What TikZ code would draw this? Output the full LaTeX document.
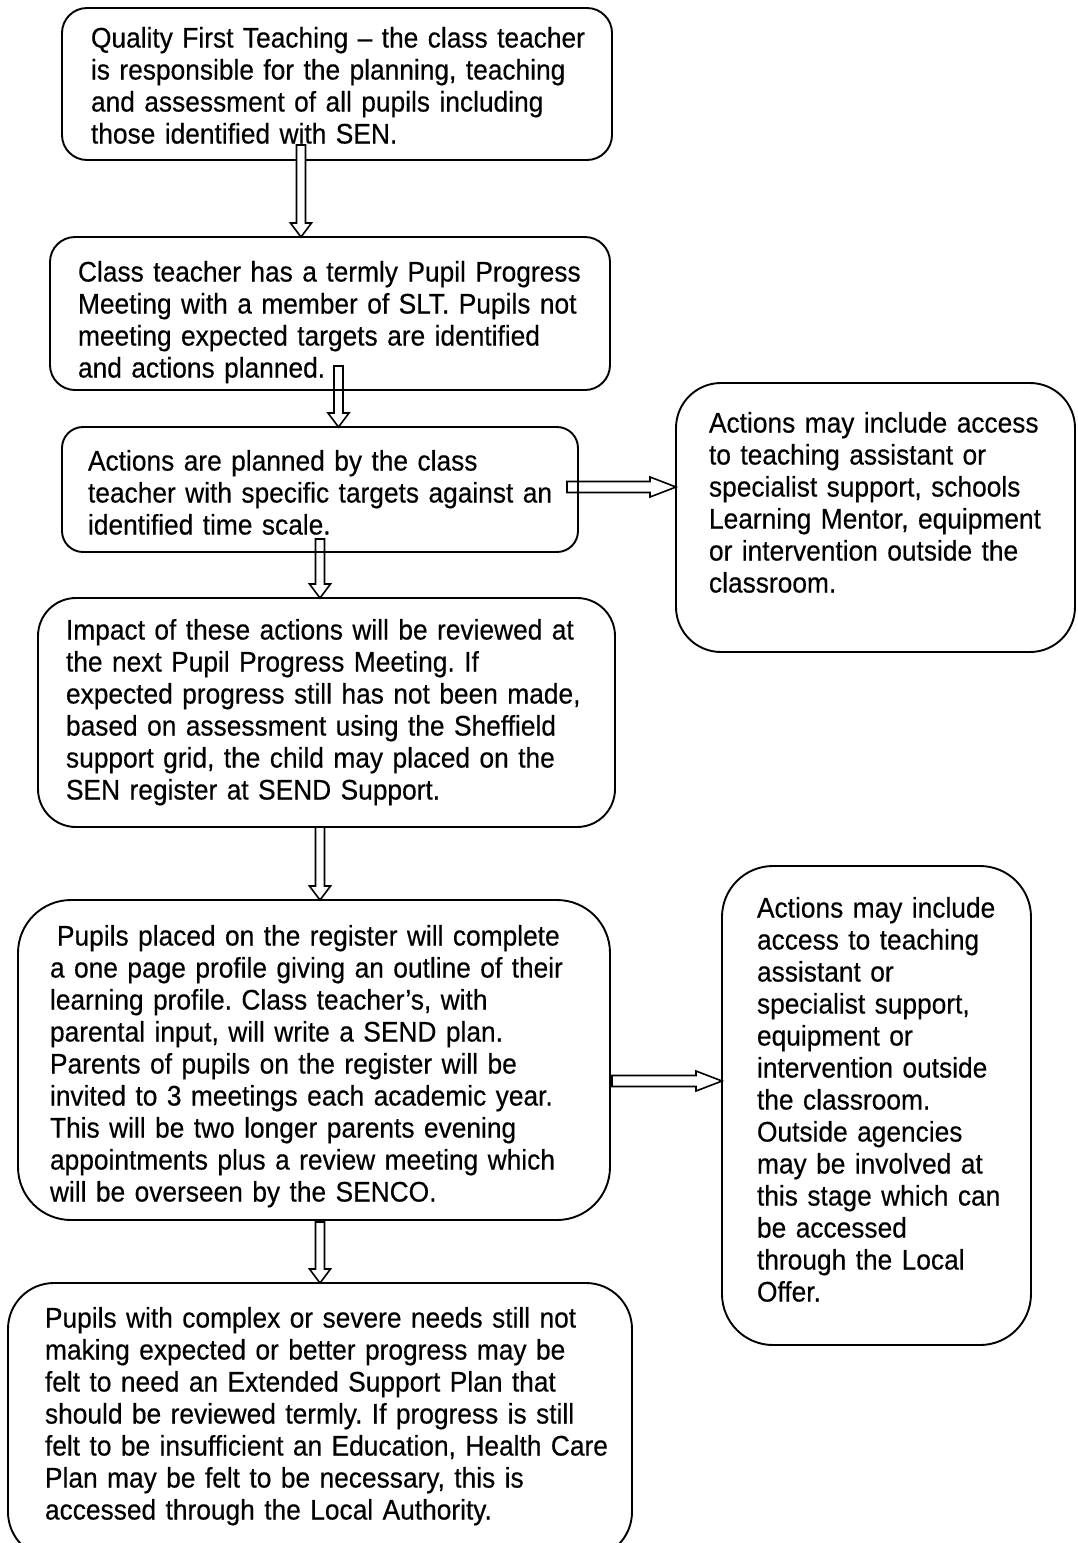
\documentclass[tikz,border=0pt]{standalone}
\usepackage{fontspec}
\setmainfont[FakeStretch=0.93,FakeBold=0.4]{Liberation Sans}
\usetikzlibrary{calc}
\tikzset{
  box/.style={draw=black, line width=1.9pt, rectangle, inner sep=0pt, outer sep=0pt},
  txt/.style={inner sep=0pt, outer sep=0pt, anchor=north west, align=left,
    font=\fontsize{28.3pt}{32pt}\selectfont},
  blockarrow/.style={draw=black, line width=1.6pt, line join=miter},
}
\newcommand{\blockdown}[3][none]{%
  \draw[blockarrow, fill=#1] let \p1=(#2), \p2=(#3) in
    (\x1-4.5pt,\y1) -- (\x1+4.5pt,\y1) -- (\x1+4.5pt,\y2+14pt) -- (\x1+10.5pt,\y2+14pt)
    -- (\x1,\y2) -- (\x1-10.5pt,\y2+14pt) -- (\x1-4.5pt,\y2+14pt) -- cycle;}
\newcommand{\blockright}[3][none]{%
  \draw[blockarrow, fill=#1] let \p1=(#2), \p2=(#3) in
    (\x1,\y1-5.5pt) -- (\x2-26pt,\y1-5.5pt) -- (\x2-26pt,\y1-10pt) -- (\x2,\y1)
    -- (\x2-26pt,\y1+10pt) -- (\x2-26pt,\y1+5.5pt) -- (\x1,\y1+5.5pt) -- cycle;}
\newcommand{\jl}[1]{\makebox[\linewidth][s]{#1}}
\frenchspacing
\begin{document}
\begin{tikzpicture}[x=1pt,y=-1pt]
\clip (0,0) rectangle (1078,1543);
\fill[white] (0,0) rectangle (1078,1543);

% boxes
\node[box, minimum width=550pt, minimum height=152pt, rounded corners=25pt] (b1) at (337,84) {};
\node[box, minimum width=560pt, minimum height=153pt, rounded corners=25pt] (b2) at (330,313.5) {};
\node[box, minimum width=516pt, minimum height=125pt, rounded corners=21pt] (b3) at (320,489.5) {};
\node[box, minimum width=399pt, minimum height=269pt, rounded corners=45pt] (b4) at (875.5,517.5) {};
\node[box, minimum width=577pt, minimum height=229pt, rounded corners=38pt] (b5) at (326.5,712.5) {};
\node[box, minimum width=592pt, minimum height=320pt, rounded corners=53pt] (b6) at (314,1060) {};
\node[box, minimum width=309pt, minimum height=479pt, rounded corners=51pt] (b7) at (876.5,1105.5) {};
\node[box, minimum width=624pt, minimum height=275pt, rounded corners=46pt] (b8) at (320,1420.5) {};

% texts
\node[txt, text width=515pt] (t1) at ($(b1.north west)+(29,19)$) {Quality First Teaching – the class teacher\\
is responsible for the planning, teaching\\
and assessment of all pupils including\\
those identified with SEN.};
\node[txt, text width=525pt] (t2) at ($(b2.north west)+(28,24)$) {Class teacher has a termly Pupil Progress\\
Meeting with a member of SLT. Pupils not\\
meeting expected targets are identified\\
and actions planned.};
\node[txt, text width=485pt] (t3) at ($(b3.north west)+(26,23)$) {Actions are planned by the class\\
teacher with specific targets against an\\
identified time scale.};
\node[txt, text width=360pt] (t4) at ($(b4.north west)+(33,29)$) {Actions may include access\\
to teaching assistant or\\
specialist support, schools\\
Learning Mentor, equipment\\
or intervention outside the\\
classroom.};
\node[txt, text width=540pt] (t5) at ($(b5.north west)+(28,21)$) {Impact of these actions will be reviewed at\\
the next Pupil Progress Meeting. If\\
expected progress still has not been made,\\
based on assessment using the Sheffield\\
support grid, the child may placed on the\\
SEN register at SEND Support.};
\node[txt, text width=535pt] (t6) at ($(b6.north west)+(32,25)$) {\jl{\hspace*{7pt}Pupils placed on the register will complete}\\
\jl{a one page profile giving an outline of their}\\
\jl{learning profile. Class teacher’s, with}\\
\jl{parental input, will write a SEND plan.}\\
\jl{Parents of pupils on the register will be}\\
\jl{invited to 3 meetings each academic year.}\\
\jl{This will be two longer parents evening}\\
\jl{appointments plus a review meeting which}\\
will be overseen by the SENCO.};
\node[txt, text width=270pt] (t7) at ($(b7.north west)+(35,31)$) {Actions may include\\
access to teaching\\
assistant or\\
specialist support,\\
equipment or\\
intervention outside\\
the classroom.\\
Outside agencies\\
may be involved at\\
this stage which can\\
be accessed\\
through the Local\\
Offer.};
\node[txt, text width=580pt] (t8) at ($(b8.north west)+(37,24)$) {Pupils with complex or severe needs still not\\
making expected or better progress may be\\
felt to need an Extended Support Plan that\\
should be reviewed termly. If progress is still\\
felt to be insufficient an Education, Health Care\\
Plan may be felt to be necessary, this is\\
accessed through the Local Authority.};

% arrow anchors
\coordinate (a1s) at (301,145);
\coordinate (a2s) at (338.5,366);
\coordinate (a3s) at (320,539);
\coordinate (a4s) at (320,827);
\coordinate (a5s) at (320,1222);
\coordinate (h1s) at (567,487);
\coordinate (h2s) at (612,1081);

\blockdown[white]{a1s}{a1s |- b2.north}
\blockdown{a2s}{a2s |- b3.north}
\blockdown{a3s}{a3s |- b5.north}
\blockdown{a4s}{a4s |- b6.north}
\blockdown{a5s}{a5s |- b8.north}
\blockright{h1s}{h1s -| b4.west}
\blockright{h2s}{h2s -| b7.west}
\end{tikzpicture}
\end{document}
